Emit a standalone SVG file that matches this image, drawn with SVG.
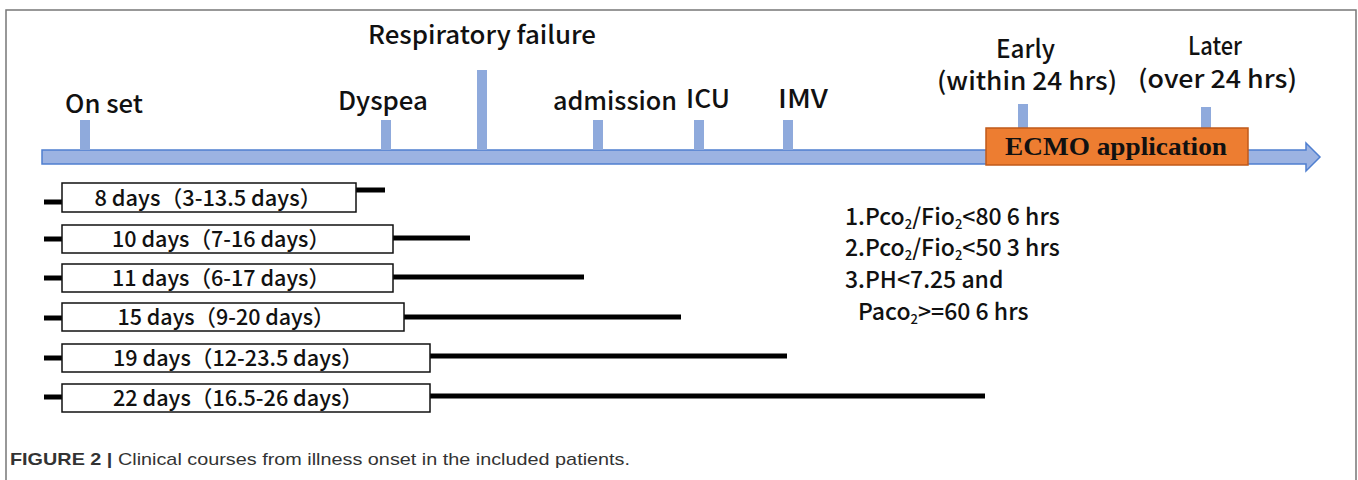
<svg xmlns="http://www.w3.org/2000/svg" width="1358" height="480" viewBox="0 0 1358 480">
<style>
.lbl{font-family:"Noto Sans CJK SC","Noto Sans",sans-serif;font-size:25px;font-weight:500;fill:#111;}
.tick{fill:#8faadc;}
.box{fill:#fff;stroke:#111;stroke-width:1.5;}
.bt{font-family:"Noto Sans CJK SC","Noto Sans",sans-serif;font-size:22px;font-weight:500;fill:#111;text-anchor:middle;}
.ln{stroke:#000;stroke-width:5;}
.crit{font-family:"Noto Sans CJK SC","Noto Sans",sans-serif;font-size:23px;font-weight:500;fill:#111;}
.sub{font-size:13px;}
.cap{font-family:"Liberation Sans",Arial,sans-serif;font-size:17px;fill:#333;}
</style>
<rect width="1358" height="480" fill="#fff"/>
<path d="M6,480 V10 H1356 V480" fill="none" stroke="#777" stroke-width="1.5"/>

<g id="timeline">
<path d="M42,150 H1306 V143 L1320,157 L1306,171 V164 H42 Z" fill="#9cb3e2" stroke="#4f7fd0" stroke-width="1.5"/>
</g>

<g id="onset"><rect class="tick" x="80" y="120" width="10" height="30"/><text class="lbl" x="65" y="113" textLength="78" lengthAdjust="spacingAndGlyphs">On set</text></g>
<g id="dyspea"><rect class="tick" x="381" y="120" width="10" height="30"/><text class="lbl" x="338" y="110" textLength="90" lengthAdjust="spacingAndGlyphs">Dyspea</text></g>
<g id="respiratory-failure"><rect class="tick" x="477" y="70" width="10" height="80"/><text class="lbl" x="368" y="44" textLength="228" lengthAdjust="spacingAndGlyphs">Respiratory failure</text></g>
<g id="admission"><rect class="tick" x="593" y="120" width="10" height="30"/><text class="lbl" x="553" y="110" textLength="124" lengthAdjust="spacingAndGlyphs">admission</text></g>
<g id="icu"><rect class="tick" x="694" y="120" width="10" height="30"/><text class="lbl" x="686" y="108" textLength="44" lengthAdjust="spacingAndGlyphs">ICU</text></g>
<g id="imv"><rect class="tick" x="783" y="120" width="10" height="30"/><text class="lbl" x="778" y="108" textLength="50" lengthAdjust="spacingAndGlyphs">IMV</text></g>
<g id="early"><rect class="tick" x="1018" y="104" width="10" height="26"/><text class="lbl" x="996" y="58" textLength="59" lengthAdjust="spacingAndGlyphs">Early</text><text class="lbl" x="937" y="90" textLength="180" lengthAdjust="spacingAndGlyphs">(within 24 hrs)</text></g>
<g id="later"><rect class="tick" x="1201" y="107" width="10" height="23"/><text class="lbl" x="1188" y="55" textLength="54" lengthAdjust="spacingAndGlyphs">Later</text><text class="lbl" x="1138" y="88" textLength="159" lengthAdjust="spacingAndGlyphs">(over 24 hrs)</text></g>
<g id="ecmo"><rect x="986" y="128" width="262" height="37" fill="#ed7d31" stroke="#c05a1a" stroke-width="1.5"/><text x="1005" y="155" textLength="222" lengthAdjust="spacingAndGlyphs" font-family="'Liberation Serif','Times New Roman',serif" font-weight="bold" font-size="25" fill="#111">ECMO application</text></g>

<g id="connectors">
<line class="ln" x1="44" y1="202" x2="62" y2="202"/><line class="ln" x1="356" y1="190" x2="385" y2="190"/>
<line class="ln" x1="44" y1="239" x2="62" y2="239"/><line class="ln" x1="393" y1="238" x2="470" y2="238"/>
<line class="ln" x1="44" y1="278" x2="62" y2="278"/><line class="ln" x1="393" y1="277" x2="584" y2="277"/>
<line class="ln" x1="44" y1="318" x2="62" y2="318"/><line class="ln" x1="404" y1="317" x2="681" y2="317"/>
<line class="ln" x1="44" y1="358" x2="62" y2="358"/><line class="ln" x1="430" y1="356" x2="787" y2="356"/>
<line class="ln" x1="44" y1="397" x2="62" y2="397"/><line class="ln" x1="430" y1="396" x2="985" y2="396"/>
</g>

<g id="row1"><rect class="box" x="62" y="183" width="294" height="29"/><text class="bt" x="208" y="206" textLength="227" lengthAdjust="spacingAndGlyphs">8 days（3-13.5 days）</text></g>
<g id="row2"><rect class="box" x="62" y="225" width="331" height="28"/><text class="bt" x="221" y="247" textLength="218" lengthAdjust="spacingAndGlyphs">10 days（7-16 days）</text></g>
<g id="row3"><rect class="box" x="62" y="264" width="331" height="28"/><text class="bt" x="221" y="286" textLength="218" lengthAdjust="spacingAndGlyphs">11 days（6-17 days）</text></g>
<g id="row4"><rect class="box" x="62" y="303" width="342" height="28"/><text class="bt" x="226" y="325" textLength="217" lengthAdjust="spacingAndGlyphs">15 days（9-20 days）</text></g>
<g id="row5"><rect class="box" x="62" y="344" width="368" height="28"/><text class="bt" x="238" y="366" textLength="250" lengthAdjust="spacingAndGlyphs">19 days（12-23.5 days）</text></g>
<g id="row6"><rect class="box" x="62" y="384" width="368" height="28"/><text class="bt" x="238" y="406" textLength="250" lengthAdjust="spacingAndGlyphs">22 days（16.5-26 days）</text></g>

<g id="criteria">
<text class="crit" x="845" y="225">1.Pco<tspan class="sub" dy="4">2</tspan><tspan dy="-4">/Fio</tspan><tspan class="sub" dy="4">2</tspan><tspan dy="-4">&lt;80 6 hrs</tspan></text>
<text class="crit" x="845" y="256">2.Pco<tspan class="sub" dy="4">2</tspan><tspan dy="-4">/Fio</tspan><tspan class="sub" dy="4">2</tspan><tspan dy="-4">&lt;50 3 hrs</tspan></text>
<text class="crit" x="845" y="288">3.PH&lt;7.25 and</text>
<text class="crit" x="858" y="320">Paco<tspan class="sub" dy="4">2</tspan><tspan dy="-4">&gt;=60 6 hrs</tspan></text>
</g>

<g id="caption">
<text class="cap" x="10" y="465" textLength="620" lengthAdjust="spacingAndGlyphs"><tspan font-weight="bold">FIGURE 2 |</tspan> Clinical courses from illness onset in the included patients.</text>
</g>
</svg>
